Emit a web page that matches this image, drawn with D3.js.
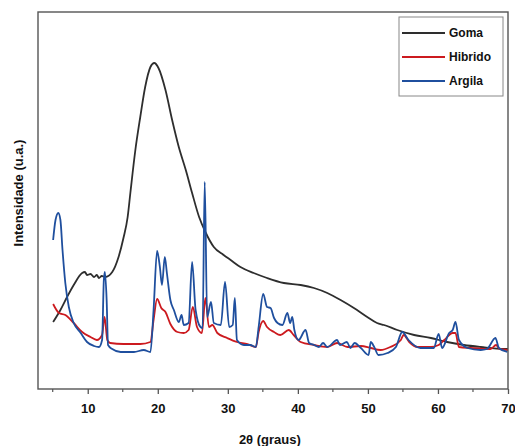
<!DOCTYPE html>
<html>
<head>
<meta charset="utf-8">
<script src="https://cdn.jsdelivr.net/npm/d3@7"></script>
<style>
  body { margin: 0; background: #fff; }
  text { font-family: "Liberation Sans", Arial, sans-serif; font-weight: bold; fill: #111; }
</style>
</head>
<body>
<div id="chart"></div>
<script>
// Series: [2theta, intensity (a.u.)]
const goma = [
  [5.06, 67], [6.1, 79], [7.05, 92], [8.0, 104], [9.2, 116], [9.6, 117], [9.9, 114], [10.4, 115],
  [10.9, 112], [11.3, 114], [11.6, 111], [12.0, 113], [12.5, 112], [13.5, 117], [14.4, 132],
  [15.1, 151], [15.7, 172], [16.1, 197], [16.8, 239], [17.5, 272], [18.2, 302], [18.95, 322],
  [19.5, 326], [20.1, 321], [21.1, 299], [22.05, 269], [23.0, 242], [24.0, 219], [24.9, 196],
  [25.9, 172], [26.8, 157], [28.0, 142], [29.4, 134], [30.4, 129], [31.8, 122], [33.7, 116],
  [35.6, 111], [38.0, 106], [40.4, 104], [42.3, 101], [44.2, 96], [46.1, 89], [48.0, 81],
  [49.9, 72], [51.3, 66], [52.3, 64], [54.2, 59], [56.6, 54], [59.0, 51], [61.3, 47],
  [63.7, 44], [66.1, 42], [69.4, 40], [70, 40]
];
const hibrido = [
  [5.06, 85], [5.9, 76], [6.8, 74], [8.0, 66], [9.2, 57], [10.4, 52], [11.3, 49], [12.05, 54],
  [12.4, 72], [12.8, 49], [13.2, 46], [15.1, 45], [17.5, 45], [18.95, 47], [19.4, 69],
  [19.9, 90], [20.5, 81], [21.1, 77], [21.8, 65], [22.8, 57], [23.7, 56], [24.4, 59],
  [25.0, 82], [25.6, 62], [26.3, 56], [26.8, 91], [27.3, 62], [27.8, 64], [28.5, 56],
  [29.9, 51], [31.3, 47], [32.8, 45], [34.0, 42], [34.4, 57], [35.05, 68], [35.6, 62],
  [36.6, 57], [37.5, 54], [38.7, 59], [39.4, 54], [40.4, 47], [42.3, 44], [44.2, 42],
  [45.6, 46], [47.1, 42], [49.0, 43], [50.4, 41], [51.8, 39], [53.2, 42], [54.7, 49],
  [55.1, 54], [55.9, 47], [57.1, 42], [59.0, 42], [60.1, 44], [60.9, 49], [62.1, 56],
  [62.5, 56], [63.0, 42], [64.7, 41], [67.5, 40], [68.3, 44], [68.8, 40], [70, 39]
];
const argila = [
  [5.06, 149], [5.4, 169], [5.8, 176], [6.1, 169], [6.4, 139], [6.8, 106], [7.3, 82], [8.0, 66],
  [9.0, 56], [9.9, 47], [10.9, 43], [11.6, 42], [12.05, 49], [12.3, 109], [12.45, 117],
  [12.7, 89], [12.9, 44], [13.5, 40], [14.7, 37], [16.6, 37], [18.0, 39], [18.95, 37],
  [19.4, 79], [19.9, 138], [20.3, 122], [20.6, 104], [21.0, 132], [21.3, 116], [21.8, 89],
  [22.3, 79], [23.0, 67], [23.4, 74], [23.7, 64], [24.4, 66], [24.9, 127], [25.4, 79],
  [26.1, 62], [26.4, 61], [26.7, 207], [27.05, 72], [27.6, 87], [28.0, 66], [29.0, 64],
  [29.6, 107], [30.2, 62], [30.7, 64], [31.0, 91], [31.3, 49], [32.3, 44], [33.2, 44],
  [34.0, 42], [34.4, 62], [35.05, 95], [35.6, 82], [36.1, 81], [36.6, 71], [37.1, 66],
  [37.8, 64], [38.5, 76], [38.9, 66], [39.2, 72], [39.5, 59], [40.1, 49], [41.1, 59],
  [41.6, 46], [42.3, 44], [43.0, 42], [43.6, 46], [44.2, 42], [45.6, 49], [46.0, 44],
  [47.0, 47], [47.5, 41], [48.1, 46], [49.0, 41], [50.1, 34], [50.4, 47], [50.9, 42],
  [51.5, 34], [52.8, 36], [54.0, 42], [54.9, 57], [55.8, 49], [57.5, 41], [59.4, 41],
  [60.1, 55], [60.6, 41], [61.6, 56], [62.1, 59], [62.5, 67], [63.0, 49], [64.2, 41],
  [66.1, 39], [67.0, 40], [68.2, 51], [68.7, 41], [69.9, 37]
];

const seriesNames = ['Goma', 'Hibrido', 'Argila'];
const seriesData = [goma, hibrido, argila];
const seriesColors = ['#2e2e2e', '#cc1a1f', '#1f4f9e'];

const xTicks = [10, 20, 30, 40, 50, 60, 70];
const xMinorTicks = [5, 15, 25, 35, 45, 55, 65];

const width = 515;
const height = 446;
const margin = { top: 12, right: 7, bottom: 57, left: 38 };
const innerWidth = width - margin.left - margin.right;
const innerHeight = height - margin.top - margin.bottom;

const svg = d3.select('#chart')
  .append('svg')
  .attr('width', width)
  .attr('height', height);

const g = svg.append('g')
  .attr('transform', `translate(${margin.left}, ${margin.top})`);

const x = d3.scaleLinear().domain([2.9, 70]).range([0, innerWidth]);
const y = d3.scaleLinear().domain([0, 377]).range([innerHeight, 0]);

// Lines (monotone keeps the peaks rounded without overshoot)
const line = d3.line()
  .curve(d3.curveMonotoneX)
  .x(d => x(d[0]))
  .y(d => y(d[1]));

g.selectAll('path.series')
  .data(seriesData)
  .join('path')
  .attr('class', 'series')
  .attr('d', line)
  .attr('fill', 'none')
  .attr('stroke', (d, i) => seriesColors[i])
  .attr('stroke-width', 1.8)
  .attr('stroke-linejoin', 'round');

// Frame
g.append('rect')
  .attr('width', innerWidth)
  .attr('height', innerHeight)
  .attr('fill', 'none')
  .attr('stroke', '#555')
  .attr('stroke-width', 1.4);

// Bottom axis
const xAxis = g.append('g')
  .attr('transform', `translate(0, ${innerHeight})`)
  .call(d3.axisBottom(x).tickValues(xTicks).tickSize(5).tickPadding(10));
xAxis.select('.domain').remove();
xAxis.selectAll('.tick line').attr('stroke', '#555').attr('stroke-width', 1.3);
xAxis.selectAll('.tick text')
  .attr('font-size', 13)
  .attr('font-family', '"Liberation Sans", Arial, sans-serif')
  .attr('font-weight', 'bold')
  .attr('fill', '#111');

g.append('g')
  .attr('transform', `translate(0, ${innerHeight})`)
  .selectAll('line')
  .data(xMinorTicks)
  .join('line')
  .attr('x1', d => x(d))
  .attr('x2', d => x(d))
  .attr('y1', 0)
  .attr('y2', 3)
  .attr('stroke', '#555')
  .attr('stroke-width', 1.2);

// Axis titles
svg.append('text')
  .attr('x', margin.left + x(36))
  .attr('y', 444)
  .attr('text-anchor', 'middle')
  .attr('font-size', 13)
  .text('2θ (graus)');

svg.append('text')
  .attr('transform', `translate(23, 193) rotate(-90)`)
  .attr('text-anchor', 'middle')
  .attr('font-size', 13)
  .text('Intensidade (u.a.)');

// Legend
const legend = svg.append('g').attr('transform', 'translate(399, 17)');
legend.append('rect')
  .attr('width', 104)
  .attr('height', 79)
  .attr('fill', '#fff')
  .attr('stroke', '#888')
  .attr('stroke-width', 1);

const item = legend.selectAll('g.item')
  .data(seriesNames)
  .join('g')
  .attr('class', 'item')
  .attr('transform', (d, i) => `translate(0, ${16 + i * 24})`);

item.append('line')
  .attr('x1', 3)
  .attr('x2', 46)
  .attr('stroke', (d, i) => seriesColors[i])
  .attr('stroke-width', 1.8);

item.append('text')
  .attr('x', 50)
  .attr('dy', '0.35em')
  .attr('font-size', 12)
  .text(d => d);
</script>
</body>
</html>
